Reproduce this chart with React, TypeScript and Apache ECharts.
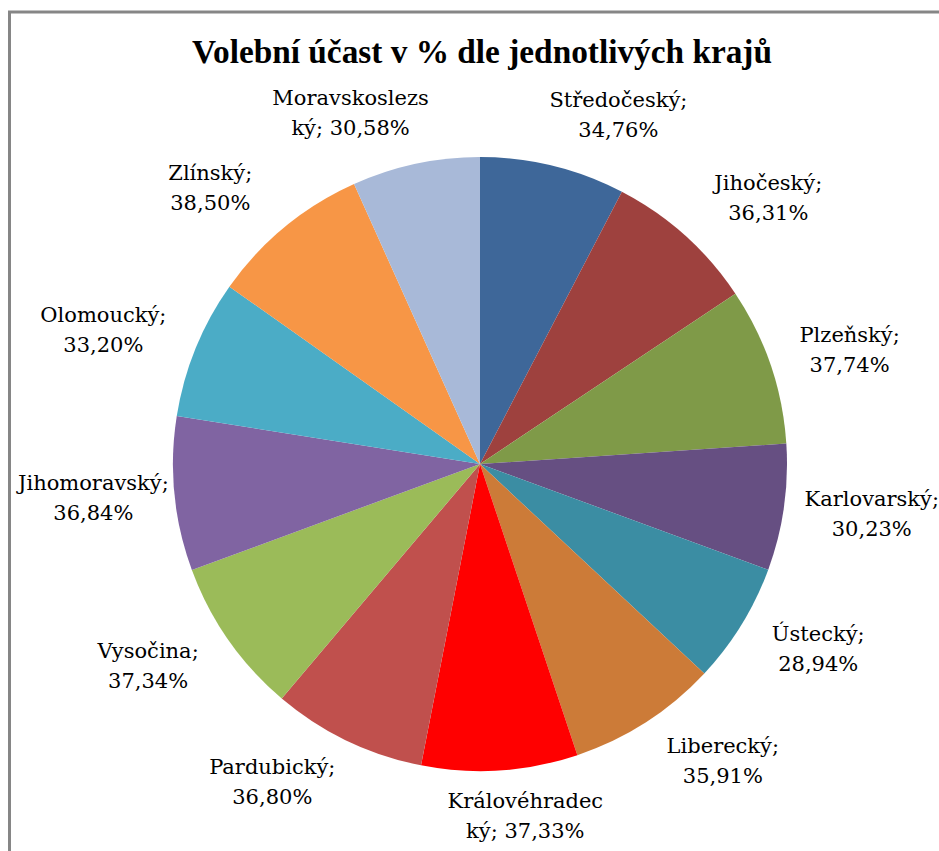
import React, { useEffect, useRef } from "react";
import * as echarts from "echarts";

const titleText = "Volební účast v % dle jednotlivých krajů";
const regions = [
  "Středočeský",
  "Jihočeský",
  "Plzeňský",
  "Karlovarský",
  "Ústecký",
  "Liberecký",
  "Královéhradecký",
  "Pardubický",
  "Vysočina",
  "Jihomoravský",
  "Olomoucký",
  "Zlínský",
  "Moravskoslezský",
];
const turnout = [34.76, 36.31, 37.74, 30.23, 28.94, 35.91, 37.33, 36.8, 37.34, 36.84, 33.2, 38.5, 30.58];
const sliceColors = [
  "#3E6799",
  "#9E413E",
  "#7F9A48",
  "#664F82",
  "#3B8DA3",
  "#CC7B38",
  "#FF0000",
  "#C0504D",
  "#9BBB59",
  "#8064A2",
  "#4BACC6",
  "#F79646",
  "#A8B9D8",
];

const CX = 480;
const CY = 464;
const R = 307;
const WRAP = 13;
const AREA_LEFT = 18;
const AREA_RIGHT = 939;

function fmtValue(v: number) {
  return v.toFixed(2).replace(".", ",") + "%";
}

function labelText(name: string, v: number) {
  if (name.length > WRAP) {
    return name.slice(0, WRAP) + "\n" + name.slice(WRAP) + "; " + fmtValue(v);
  }
  return name + ";\n" + fmtValue(v);
}

export default function App() {
  const ref = useRef<HTMLDivElement>(null);
  useEffect(() => {
    if (!ref.current) return;
    const chart = echarts.init(ref.current, undefined, { renderer: "svg" });
    const total = turnout.reduce((a, b) => a + b, 0);
    const midAngles: number[] = [];
    let acc = 0;
    for (const v of turnout) {
      midAngles.push(((acc + v / 2) / total) * Math.PI * 2);
      acc += v;
    }
    chart.setOption({
      animation: false,
      backgroundColor: "#ffffff",
      textStyle: { fontFamily: "Liberation Serif" },
      graphic: [
        {
          type: "rect",
          shape: { x: 9.5, y: 12, width: 940, height: 850 },
          style: { fill: "none", stroke: "#868686", lineWidth: 3 },
          silent: true,
        },
        {
          type: "text",
          x: 482,
          y: 51,
          scaleX: 0.98,
          style: {
            text: titleText,
            font: 'bold 34px "Liberation Serif", serif',
            fill: "#000000",
            textAlign: "center",
            textVerticalAlign: "middle",
          },
        },
      ],
      series: [
        {
          type: "pie",
          center: [CX, CY],
          radius: R,
          startAngle: 90,
          clockwise: true,
          avoidLabelOverlap: false,
          itemStyle: { borderWidth: 0 },
          label: {
            show: true,
            position: "outside",
            fontFamily: "DejaVu Serif",
            fontSize: 21,
            lineHeight: 30,
            color: "#000000",
            align: "center",
            formatter: (p: any) => labelText(p.name, p.value),
          },
          labelLine: { show: false },
          labelLayout: (params: any) => {
            const i = params.dataIndex;
            const th = midAngles[i];
            const s = Math.sin(th);
            const c = Math.cos(th);
            const w = params.labelRect.width;
            const h = params.labelRect.height;
            const gap = 16 + 6 * Math.max(0, c);
            const push = 45 * Math.abs(c) * Math.sign(s) * Math.min(1, Math.abs(s) / 0.15);
            let x = CX + s * (R + gap) + (s * w) / 2 + push;
            x = Math.max(x, AREA_LEFT + w / 2);
            x = Math.min(x, AREA_RIGHT - w / 2);
            return {
              x,
              y: CY - c * (R + gap) - (c * h) / 2,
              align: "center",
              verticalAlign: "middle",
            };
          },
          emphasis: { disabled: true },
          data: regions.map((name, i) => ({
            name,
            value: turnout[i],
            itemStyle: { color: sliceColors[i] },
          })),
        },
      ],
    });
    return () => chart.dispose();
  }, []);
  return (
    <div
      ref={ref}
      style={{ position: "absolute", left: 0, top: 0, width: 939, height: 851 }}
    />
  );
}
